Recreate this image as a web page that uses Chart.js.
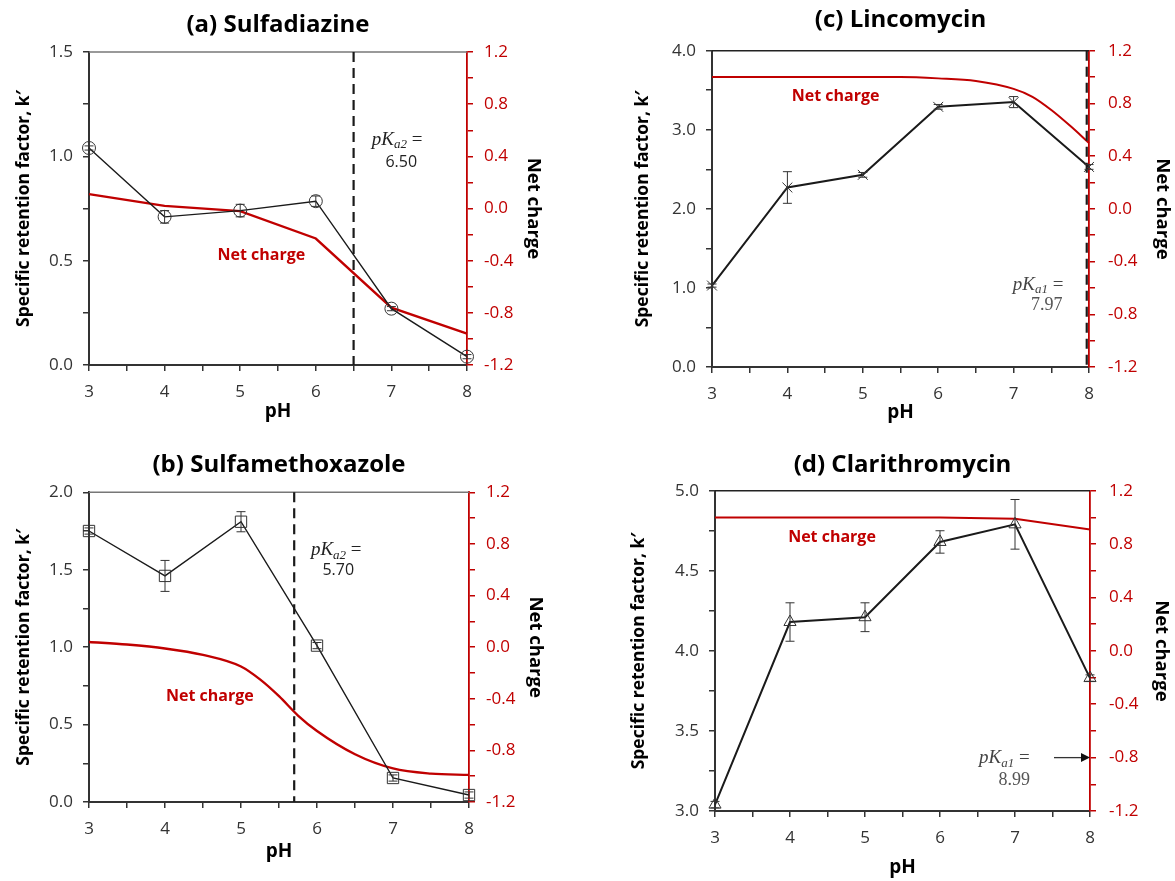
<!DOCTYPE html>
<html>
<head>
<meta charset="utf-8">
<script src="https://cdn.jsdelivr.net/npm/chart.js@4.4.1/dist/chart.umd.min.js"></script>
<style>
body{margin:0;background:#fff;overflow:hidden}
.panel{position:absolute}
</style>
</head>
<body>
<div class="panel" style="left:0;top:0"><canvas id="cA" width="587" height="440"></canvas></div>
<div class="panel" style="left:588px;top:0"><canvas id="cC" width="587" height="440"></canvas></div>
<div class="panel" style="left:0;top:440px"><canvas id="cB" width="587" height="441"></canvas></div>
<div class="panel" style="left:588px;top:440px"><canvas id="cD" width="587" height="441"></canvas></div>
<script>
// pH values where k' was measured
var ph = [3, 4, 5, 6, 7, 8];

// (a) Sulfadiazine
var kA = [1.04, 0.71, 0.74, 0.785, 0.27, 0.04];
var errA = [0.01, 0.03, 0.03, 0.025, 0.01, 0.01];
var chargePhA = [3, 4, 5, 6, 7, 8];
var chargeA = [0.11, 0.02, -0.02, -0.23, -0.76, -0.96];

// (b) Sulfamethoxazole
var kB = [1.75, 1.46, 1.81, 1.01, 0.155, 0.045];
var errB = [0.02, 0.1, 0.065, 0.02, 0.02, 0.02];
var chargePhB = [3, 3.5, 4, 4.5, 5, 5.25, 5.5, 5.75, 6, 6.5, 7, 7.5, 8];
var chargeB = [0.04, 0.02, -0.01, -0.06, -0.15, -0.25, -0.38, -0.53, -0.65, -0.83, -0.94, -0.98, -0.99];

// (c) Lincomycin
var kC = [1.03, 2.27, 2.43, 3.29, 3.35, 2.53];
var errC = [0.02, 0.2, 0.03, 0.03, 0.07, 0.03];
var chargePhC = [3, 4, 5, 5.5, 6, 6.5, 7, 7.25, 7.5, 7.75, 8];
var chargeC = [1.0, 1.0, 1.0, 1.0, 0.99, 0.97, 0.91, 0.85, 0.75, 0.63, 0.5];

// (d) Clarithromycin
var kD = [3.04, 4.18, 4.21, 4.68, 4.79, 3.83];
var errD = [0.02, 0.12, 0.09, 0.07, 0.155, 0.02];
var chargePhD = [3, 4, 5, 6, 7, 8];
var chargeD = [1.0, 1.0, 1.0, 1.0, 0.99, 0.91];

// pKa values
var pKaA = 6.5, pKaB = 5.7, pKaC = 7.97, pKaD = 8.99;
var chargeTicks = [-1.2, -0.8, -0.4, 0.0, 0.4, 0.8, 1.2];

var RED = '#c00000';
var FONT = '"Open Sans", Lato, sans-serif';
var SERIF = '"Liberation Serif", "DejaVu Serif", serif';
Chart.defaults.font.family = FONT;
Chart.defaults.color = '#333';

function isMult(v, s){ return Math.abs(v / s - Math.round(v / s)) < 1e-6 }

function drawPK(ctx, x, y, sub, color){
    ctx.save();
    ctx.fillStyle = color;
    ctx.textBaseline = 'middle';
    ctx.textAlign = 'left';
    ctx.font = 'italic 19px ' + SERIF;
    ctx.fillText('pK', x, y);
    var w = ctx.measureText('pK').width;
    ctx.font = 'italic 13px ' + SERIF;
    ctx.fillText(sub, x + w, y + 5);
    var w2 = ctx.measureText(sub).width;
    ctx.font = '19px ' + SERIF;
    ctx.fillText(' =', x + w + w2, y);
    ctx.restore();
}

var extras = {
    id: 'extras',
    afterDatasetsDraw: function(chart){
        var p = chart.options.plugins.extras;
        var ctx = chart.ctx, a = chart.chartArea;
        var xs = chart.scales.x, ys = chart.scales.y, y2 = chart.scales.y2;
        ctx.save();
        // top frame line
        ctx.strokeStyle = p.topColor;
        ctx.lineWidth = 1.5;
        ctx.beginPath(); ctx.moveTo(a.left, a.top); ctx.lineTo(a.right, a.top); ctx.stroke();
        // pKa dashed line
        if (p.pKa <= 8) {
            var px = xs.getPixelForValue(p.pKa);
            ctx.strokeStyle = '#1a1a1a';
            ctx.lineWidth = 2.2;
            ctx.setLineDash([10, 6]);
            ctx.beginPath(); ctx.moveTo(px, a.top); ctx.lineTo(px, a.bottom); ctx.stroke();
            ctx.setLineDash([]);
        }
        // error bars
        var ds = chart.data.datasets[0];
        ctx.strokeStyle = '#333';
        ctx.lineWidth = 1;
        ds.data.forEach(function(pt, i){
            var e = ds.errors[i];
            var x = xs.getPixelForValue(pt.x);
            var t = ys.getPixelForValue(pt.y + e), b = ys.getPixelForValue(pt.y - e);
            ctx.beginPath();
            ctx.moveTo(x, t); ctx.lineTo(x, b);
            ctx.moveTo(x - 4.5, t); ctx.lineTo(x + 4.5, t);
            ctx.moveTo(x - 4.5, b); ctx.lineTo(x + 4.5, b);
            ctx.stroke();
        });
        // Net charge label
        ctx.fillStyle = RED;
        ctx.font = 'bold 16px ' + FONT;
        ctx.textAlign = 'center';
        ctx.textBaseline = 'middle';
        ctx.fillText('Net charge', xs.getPixelForValue(p.net[0]), ys.getPixelForValue(p.net[1]));
        // pKa text
        drawPK(ctx, xs.getPixelForValue(p.pkPos[0]), ys.getPixelForValue(p.pkPos[1]), p.sub, p.numSerif ? '#444' : '#222');
        ctx.fillStyle = p.numSerif ? '#555' : '#222';
        ctx.font = p.numSerif ? '18px ' + SERIF : '16px ' + FONT;
        ctx.textAlign = 'center';
        ctx.fillText(p.pKa.toFixed(2), xs.getPixelForValue(p.numPos[0]), ys.getPixelForValue(p.numPos[1]));
        // arrow pointing off the chart (pKa outside range)
        if (p.arrow) {
            var ay = y2.getPixelForValue(p.arrow[2]);
            var ax0 = xs.getPixelForValue(p.arrow[0]), ax1 = xs.getPixelForValue(p.arrow[1]);
            ctx.strokeStyle = '#333'; ctx.fillStyle = '#111'; ctx.lineWidth = 1.3;
            ctx.beginPath(); ctx.moveTo(ax0, ay); ctx.lineTo(ax1 - 8, ay); ctx.stroke();
            ctx.beginPath(); ctx.moveTo(ax1, ay); ctx.lineTo(ax1 - 9, ay - 4.5); ctx.lineTo(ax1 - 9, ay + 4.5); ctx.closePath(); ctx.fill();
        }
        ctx.restore();
    }
};

function makePanel(id, p){
    var kPts = ph.map(function(x, i){ return {x: x, y: p.k[i]} });
    var chPts = p.chPh.map(function(x, i){ return {x: x, y: p.ch[i]} });
    var L = p.lay;
    return new Chart(document.getElementById(id), {
        type: 'line',
        data: {datasets: [
            {data: kPts, yAxisID: 'y', borderColor: '#1a1a1a', borderWidth: p.lineW, tension: 0,
             pointStyle: p.marker, pointRadius: p.pointR, pointBorderColor: '#333', pointBorderWidth: 1,
             pointBackgroundColor: 'rgba(0,0,0,0)', clip: false, errors: p.err},
            {data: chPts, yAxisID: 'y2', borderColor: RED, borderWidth: p.redW, pointRadius: 0,
             tension: 0, cubicInterpolationMode: p.smooth ? 'monotone' : 'default', clip: false}
        ]},
        options: {
            responsive: false, animation: false, events: [],
            layout: {padding: 0},
            plugins: {
                legend: {display: false}, tooltip: {enabled: false},
                title: {display: true, text: p.title, fullSize: false, color: '#000',
                        font: {size: 24, weight: 'bold'}, padding: {top: L.tTop, bottom: L.tBot}},
                extras: p.ex
            },
            scales: {
                x: {type: 'linear', min: 3, max: 8,
                    afterFit: function(s){ s.height = L.xH },
                    border: {color: '#333', width: 2},
                    grid: {drawOnChartArea: false, tickLength: 6, color: '#333', lineWidth: 1.5},
                    ticks: {stepSize: 0.5, autoSkip: false, maxRotation: 0, padding: 11, color: '#333',
                            font: {size: 17},
                            callback: function(v){ return Number.isInteger(v) ? String(v) : '' }},
                    title: {display: true, text: 'pH', color: '#000', font: {size: 19, weight: 'bold'},
                            padding: {top: 0, bottom: L.xPad}}},
                y: {position: 'left', min: p.kMin, max: p.kMax,
                    afterFit: function(s){ s.width = L.yW },
                    border: {color: '#333', width: 2},
                    grid: {drawOnChartArea: false, tickLength: 6, color: '#333', lineWidth: 1.5},
                    ticks: {stepSize: p.kStep, autoSkip: false, padding: 10, color: '#333', font: {size: 17},
                            callback: function(v){ return isMult(v, p.kLab) ? v.toFixed(1) : '' }},
                    title: {display: true, text: 'Specific retention factor, k\u2032', color: '#000',
                            font: {size: 17.5, weight: 'bold'}, padding: {top: L.yPad, bottom: 0}}},
                y2: {position: 'right', min: chargeTicks[0], max: chargeTicks[chargeTicks.length - 1],
                     afterFit: function(s){ s.width = L.y2W },
                     border: {color: RED, width: 1.8},
                     grid: {drawOnChartArea: false, tickLength: 6, color: RED, lineWidth: 1.5},
                     ticks: {stepSize: 0.2, autoSkip: false, padding: L.y2TickPad, color: RED, font: {size: 17},
                             callback: function(v){
                                 for (var i = 0; i < chargeTicks.length; i++) if (Math.abs(v - chargeTicks[i]) < 1e-6) return chargeTicks[i].toFixed(1);
                                 return '' }},
                     title: {display: true, text: 'Net charge', color: '#000', font: {size: 18.5, weight: 'bold'},
                             padding: {top: L.y2Pad, bottom: 0}}}
            }
        },
        plugins: [extras]
    });
}

makePanel('cA', {
    title: '(a) Sulfadiazine', k: kA, err: errA, chPh: chargePhA, ch: chargeA,
    kMin: 0, kMax: 1.5, kStep: 0.25, kLab: 0.5, marker: 'circle', pointR: 6.5, lineW: 1.4, redW: 2.4, smooth: false,
    lay: {yW: 89, y2W: 120, xH: 75, tTop: 10.6, tBot: 12.6, yPad: 13.7, y2Pad: 42.2, xPad: 16.6, y2TickPad: 11},
    ex: {topColor: '#777', pKa: pKaA, sub: 'a2', numSerif: false, pkPos: [6.74, 1.078], numPos: [7.13, 0.973], net: [5.28, 0.527]}
});
makePanel('cB', {
    title: '(b) Sulfamethoxazole', k: kB, err: errB, chPh: chargePhB, ch: chargeB,
    kMin: 0, kMax: 2, kStep: 0.25, kLab: 0.5, marker: 'rect', pointR: 8, lineW: 1.4, redW: 2.4, smooth: true,
    lay: {yW: 89, y2W: 118, xH: 79, tTop: 10.6, tBot: 12.9, yPad: 13.7, y2Pad: 40.2, xPad: 17.9, y2TickPad: 11},
    ex: {topColor: '#777', pKa: pKaB, sub: 'a2', numSerif: false, pkPos: [5.92, 1.626], numPos: [6.28, 1.497], net: [4.59, 0.684]}
});
makePanel('cC', {
    title: '(c) Lincomycin', k: kC, err: errC, chPh: chargePhC, ch: chargeC,
    kMin: 0, kMax: 4, kStep: 0.5, kLab: 1, marker: 'crossRot', pointR: 7, lineW: 2, redW: 2, smooth: true,
    lay: {yW: 124, y2W: 86, xH: 73, tTop: 5.6, tBot: 16.3, yPad: 44.2, y2Pad: 1.2, xPad: 15.6, y2TickPad: 13},
    ex: {topColor: '#222', pKa: pKaC, sub: 'a1', numSerif: true, pkPos: [6.99, 1.04], numPos: [7.44, 0.785], net: [4.64, 3.42]}
});
makePanel('cD', {
    title: '(d) Clarithromycin', k: kD, err: errD, chPh: chargePhD, ch: chargeD,
    kMin: 3, kMax: 5, kStep: 0.25, kLab: 0.5, marker: 'triangle', pointR: 7, lineW: 2, redW: 2, smooth: false,
    lay: {yW: 127, y2W: 85, xH: 70, tTop: 10.6, tBot: 11.3, yPad: 40.2, y2Pad: 2.2, xPad: 1.6, y2TickPad: 13},
    ex: {topColor: '#222', pKa: pKaD, sub: 'a1', numSerif: true, pkPos: [6.52, 3.33], numPos: [6.99, 3.19], net: [4.56, 4.706], arrow: [7.52, 8, -0.8]}
});
</script>
</body>
</html>
